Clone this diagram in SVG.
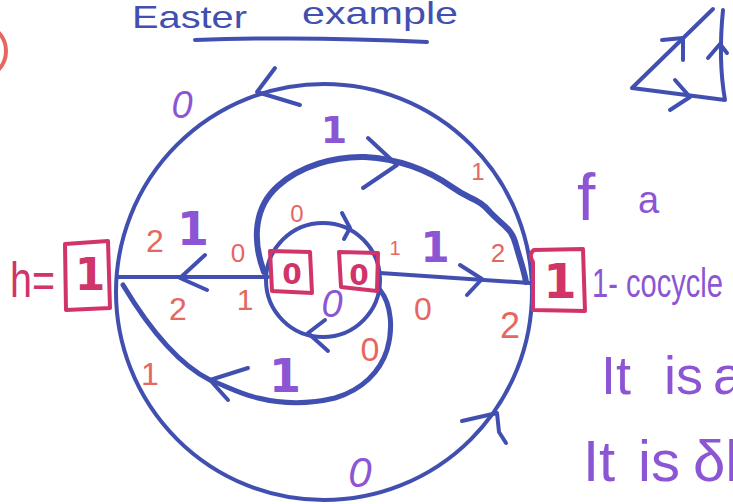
<svg xmlns="http://www.w3.org/2000/svg" width="733" height="504" viewBox="0 0 733 504">
<style>
.b{fill:none;stroke:#4150b0;stroke-width:4;stroke-linecap:round;stroke-linejoin:round}
.bx{fill:none;stroke:#d13469;stroke-width:4;stroke-linejoin:round}
.r{fill:#e5675f;font-family:"Liberation Sans",sans-serif;text-anchor:middle}
.p{fill:#8b55d4;font-family:"Liberation Sans",sans-serif;font-style:italic;text-anchor:middle}
.pb{fill:#8b55d4;font-family:"DejaVu Sans",sans-serif;font-weight:bold;text-anchor:middle}
.c{fill:#d13469;font-family:"DejaVu Sans",sans-serif;font-weight:bold;text-anchor:middle}
.t{fill:#8b55d4;font-family:"Liberation Sans",sans-serif}
</style>
<rect width="733" height="504" fill="#ffffff"/>
<!-- title -->
<g id="title">
<text x="132" y="28" font-family="Liberation Sans,sans-serif" font-size="32" fill="#4150b0" textLength="115" lengthAdjust="spacingAndGlyphs">Easter</text>
<text x="302" y="24" font-family="Liberation Sans,sans-serif" font-size="32" fill="#4150b0" textLength="156" lengthAdjust="spacingAndGlyphs">example</text>
<path class="b" d="M195 40 Q310 36 427 42"/>
</g>
<circle cx="-21" cy="51" r="27" fill="none" stroke="#e5675f" stroke-width="4"/>
<!-- top-right triangle -->
<g id="triangle" class="b">
<path d="M713 9 L632 88 L725 100 Q718 60 723 10"/>
<polyline points="662,40 683,38 683,60"/>
<polyline points="675,80 690,97 670,110"/>
<polyline points="708,58 720,44 727,53"/>
</g>
<!-- nodes -->
<g id="outer-circle"><circle class="b" cx="324" cy="292" r="208"/></g>
<g id="inner-circle"><circle class="b" cx="323" cy="280" r="57"/></g>
<g id="connectors" class="b">
<path d="M117 277 L268 277"/>
<path d="M380 273 L530 283"/>
<path stroke-width="6" d="M264 272 C252 240 254 207 278 186 C300 166 335 156 365 157 C400 159 428 170 452 187 C470 200 478 198 490 212 C502 225 512 228 516 245 C520 260 524 270 526 282"/>
<path stroke-width="5" d="M380 290 C392 305 393 330 387 350 C380 372 362 390 335 398 C310 404 282 404 258 398 C240 394 226 386 210 380 C180 365 150 330 123 285"/>
<polyline points="275,68 257,92 300,105"/>
<polyline points="462,421 497,413 499,432 506,443"/>
<polyline points="368,138 397,165 363,188"/>
<polyline points="205,255 180,278 207,290"/>
<polyline points="460,265 482,279 467,295"/>
<polyline points="248,368 210,380 228,400"/>
<polyline points="342,213 350,228 344,239"/>
<polyline points="325,320 308,333 328,351"/>
</g>
<!-- boxes -->
<g id="h-box">
<text x="10" y="297" font-family="Liberation Sans,sans-serif" font-size="50" fill="#d13469" textLength="45" lengthAdjust="spacingAndGlyphs">h=</text>
<path class="bx" d="M65 244 L108 241 L110 308 L66 310 Z"/>
<text class="c" x="90" y="290" font-size="44">1</text>
</g>
<g id="box-left0">
<path class="bx" d="M270 251 L310 252 L312 293 L272 291 Z"/>
<text class="c" x="292" y="284" font-size="28">0</text>
</g>
<g id="box-right0">
<path class="bx" d="M339 252 L378 253 L377 291 L341 287 Z"/>
<text class="c" x="359" y="285" font-size="28">0</text>
</g>
<g id="f-box">
<path class="bx" d="M534 250 Q528 254 533 262 L533 310 L585 311 L583 249 Z"/>
<text class="c" x="560" y="298" font-size="48">1</text>
</g>
<!-- red labels -->
<g id="red-labels">
<text class="r" x="155" y="252" font-size="32">2</text>
<text class="r" x="238" y="262" font-size="26">0</text>
<text class="r" x="178" y="320" font-size="32">2</text>
<text class="r" x="245" y="310" font-size="30">1</text>
<text class="r" x="297" y="222" font-size="24">0</text>
<text class="r" x="395" y="255" font-size="20">1</text>
<text class="r" x="498" y="262" font-size="26">2</text>
<text class="r" x="423" y="320" font-size="32">0</text>
<text class="r" x="510" y="338" font-size="36">2</text>
<text class="r" x="370" y="361" font-size="34">0</text>
<text class="r" x="150" y="385" font-size="32">1</text>
<text class="r" x="478" y="180" font-size="24">1</text>
</g>
<!-- purple labels -->
<g id="purple-labels">
<text class="p" x="182" y="118" font-size="38">0</text>
<text class="pb" x="334" y="143" font-size="38">1</text>
<text class="pb" x="193" y="245" font-size="46">1</text>
<text class="pb" x="435" y="262" font-size="42">1</text>
<text class="p" x="332" y="317" font-size="38">0</text>
<text class="pb" x="285" y="392" font-size="46">1</text>
<text class="p" x="360" y="487" font-size="42">0</text>
</g>
<!-- side notes -->
<g id="notes">
<text class="t" x="577" y="220" font-size="66">f</text>
<text class="t" x="638" y="213" font-size="38">a</text>
<text class="t" x="592" y="297" font-size="40" textLength="131" lengthAdjust="spacingAndGlyphs">1- cocycle</text>
<text class="t" font-size="54" y="394"><tspan x="601">It</tspan><tspan x="664">is</tspan><tspan x="713">a</tspan></text>
<text class="t" font-size="58" y="481"><tspan x="583">It</tspan><tspan x="638">is</tspan><tspan x="693">δh</tspan></text>
</g>
</svg>
